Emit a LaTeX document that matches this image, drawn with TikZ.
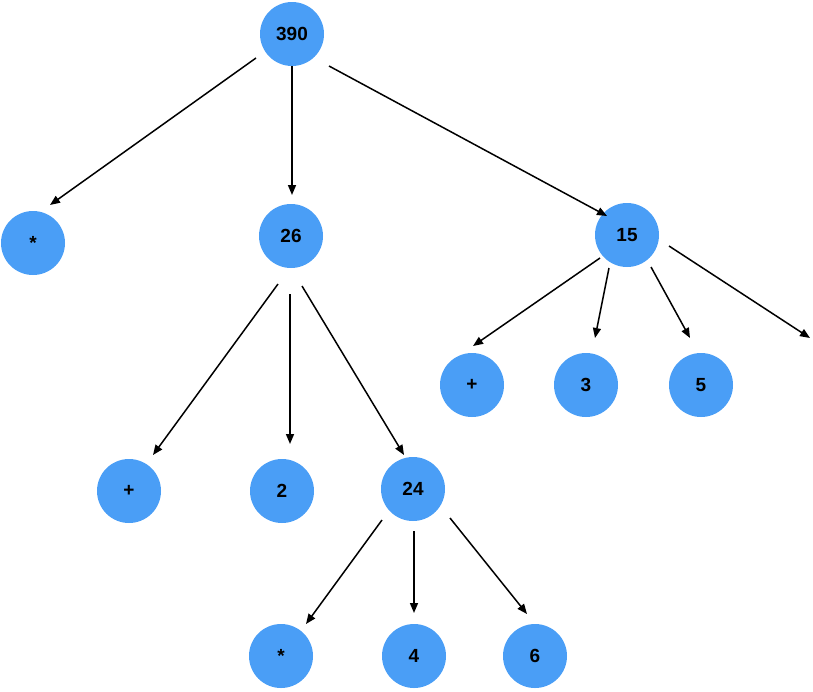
\documentclass[tikz,border=0pt]{standalone}
\usepackage{fontspec}
\setmainfont{Liberation Sans}
\usetikzlibrary{arrows.meta,calc}
\definecolor{nodeblue}{RGB}{74,158,246}
\tikzset{
  tnode/.style={circle,fill=nodeblue,draw=none,minimum size=64pt,inner sep=0pt,
    font=\fontsize{19}{21}\selectfont\bfseries,text=black},
  edge/.style={line width=1.5pt,-{Triangle[length=10pt,width=8pt]}}
}
\begin{document}
\begin{tikzpicture}[x=1pt,y=-1pt]
\useasboundingbox (0,0) rectangle (813,691);
\node[tnode] (A) at (292,34) {390};
\node[tnode] (B) at (33,243) {*};
\node[tnode] (C) at (291,236) {26};
\node[tnode] (D) at (627,235) {15};
\node[tnode] (E) at (472,385) {+};
\node[tnode] (F) at (586,385) {3};
\node[tnode] (G) at (701,385) {5};
\node[tnode] (H) at (129,491) {+};
\node[tnode] (I) at (282,491) {2};
\node[tnode] (J) at (413,489) {24};
\node[tnode] (K) at (281,656) {*};
\node[tnode] (L) at (414,656) {4};
\node[tnode] (M) at (535,656) {6};
\coordinate (off) at (810,338);

\draw[edge] ($(A)+(-36,24)$) -- ($(B)+(17,-38)$);
\draw[edge] ($(A)+(0,32)$) -- ($(C)+(1,-41)$);
\draw[edge] ($(A)+(37,32)$) -- ($(D)+(-20,-19)$);
\draw[edge] ($(D)+(-27,23)$) -- ($(E)+(1,-39)$);
\draw[edge] ($(D)+(-18,33)$) -- ($(F)+(9,-47)$);
\draw[edge] ($(D)+(24,32)$) -- ($(G)+(-11,-47)$);
\draw[edge] ($(D)+(42,11)$) -- (off);
\draw[edge] ($(C)+(-13,48)$) -- ($(H)+(24,-36)$);
\draw[edge] ($(C)+(-1,58)$) -- ($(I)+(8,-47)$);
\draw[edge] ($(C)+(11,50)$) -- ($(J)+(-9,-34)$);
\draw[edge] ($(J)+(-31,31)$) -- ($(K)+(25,-32)$);
\draw[edge] ($(J)+(1,42)$) -- ($(L)+(0,-43)$);
\draw[edge] ($(J)+(37,29)$) -- ($(M)+(-8,-42)$);
\end{tikzpicture}
\end{document}
